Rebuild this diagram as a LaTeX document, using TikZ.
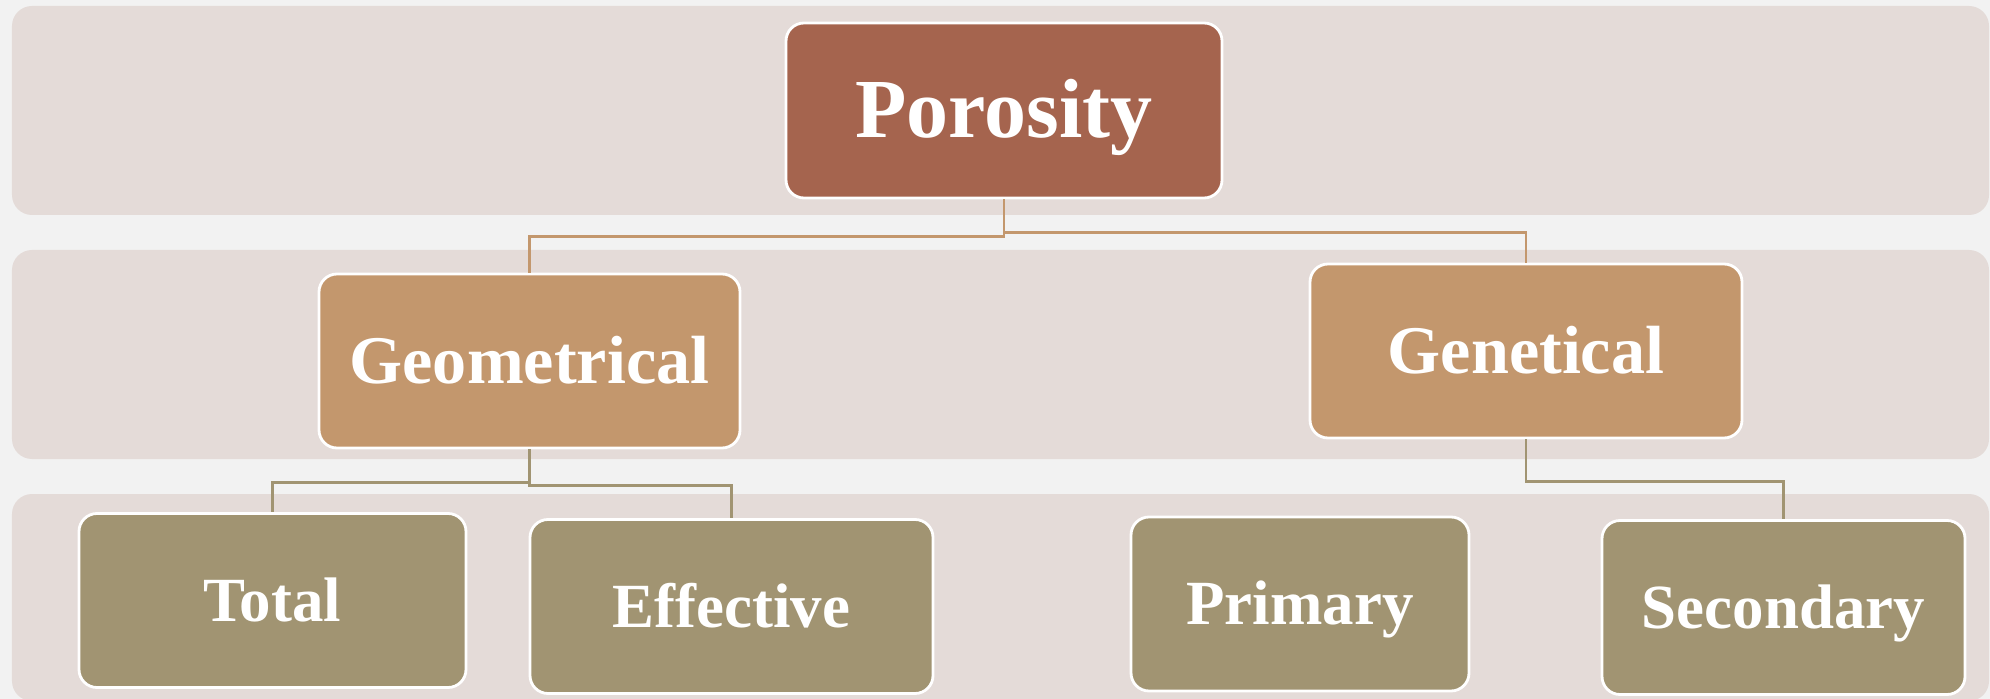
\documentclass[tikz,border=0pt]{standalone}
\usepackage{fontspec}
\setmainfont{Liberation Serif}
\usetikzlibrary{positioning, calc}
\definecolor{bgcol}{HTML}{F2F2F2}
\definecolor{bandcol}{HTML}{E4DBD8}
\definecolor{rootcol}{HTML}{A5644E}
\definecolor{midcol}{HTML}{C3976D}
\definecolor{leafcol}{HTML}{A19472}
\tikzstyle{band} = [fill=bandcol, rounded corners=0.2cm]
\tikzstyle{box} = [rectangle, rounded corners=0.18cm, draw=white, line width=0.8pt, text=white, text centered, inner sep=0pt, text depth=0pt]
\tikzstyle{root} = [box, fill=rootcol, minimum width=4.36cm, minimum height=1.75cm, text height=15.4pt, font=\bfseries\fontsize{23.9}{28}\selectfont]
\tikzstyle{mid} = [box, fill=midcol, minimum height=1.74cm, text height=12.8pt, font=\bfseries\fontsize{19.4}{23}\selectfont]
\tikzstyle{leaf} = [box, fill=leafcol, minimum height=1.74cm, text height=11.8pt, font=\bfseries\fontsize{17.9}{21}\selectfont]
\tikzstyle{link} = [line width=0.65pt, draw=midcol]
\tikzstyle{leaflink} = [line width=0.65pt, draw=leafcol]

\begin{document}
\begin{tikzpicture}
  %背景
  \useasboundingbox (0,0) rectangle (19.9,-6.99);
  \fill [bgcol] (0,0) rectangle (19.9,-6.99);
  \fill [band] (0.12,-0.06) rectangle (19.89,-2.15);
  \fill [band] (0.12,-2.50) rectangle (19.89,-4.59);
  \fill [band] (0.12,-4.94) rectangle (19.89,-7.01);

  %定义各层方框
  \node (por) [root] at (10.04,-1.105) {Porosity};
  \node (geo) [mid, minimum width=4.21cm] at (5.295,-3.61) {Geometrical};
  \node (gen) [mid, minimum width=4.32cm] at (15.26,-3.51) {Genetical};
  \node (tot) [leaf, minimum width=3.87cm] at (2.725,-6.005) {Total};
  \node (eff) [leaf, minimum width=4.03cm] at (7.315,-6.065) {Effective};
  \node (pri) [leaf, minimum width=3.38cm] at (13.00,-6.04) {Primary};
  \node (sec) [leaf, minimum width=3.63cm] at (17.835,-6.075) {Secondary};

  %连接线
  \draw [link] (por.south) -- ++(0,-0.37) -| (geo.north);
  \draw [link] (por.south) -- ++(0,-0.33) -| (gen.north);
  \draw [leaflink] (geo.south) -- ++(0,-0.33) -| (tot.north);
  \draw [leaflink] (geo.south) -- ++(0,-0.36) -| (eff.north);
  \draw [leaflink] (gen.south) -- ++(0,-0.42) -| (sec.north);
\end{tikzpicture}
\end{document}
